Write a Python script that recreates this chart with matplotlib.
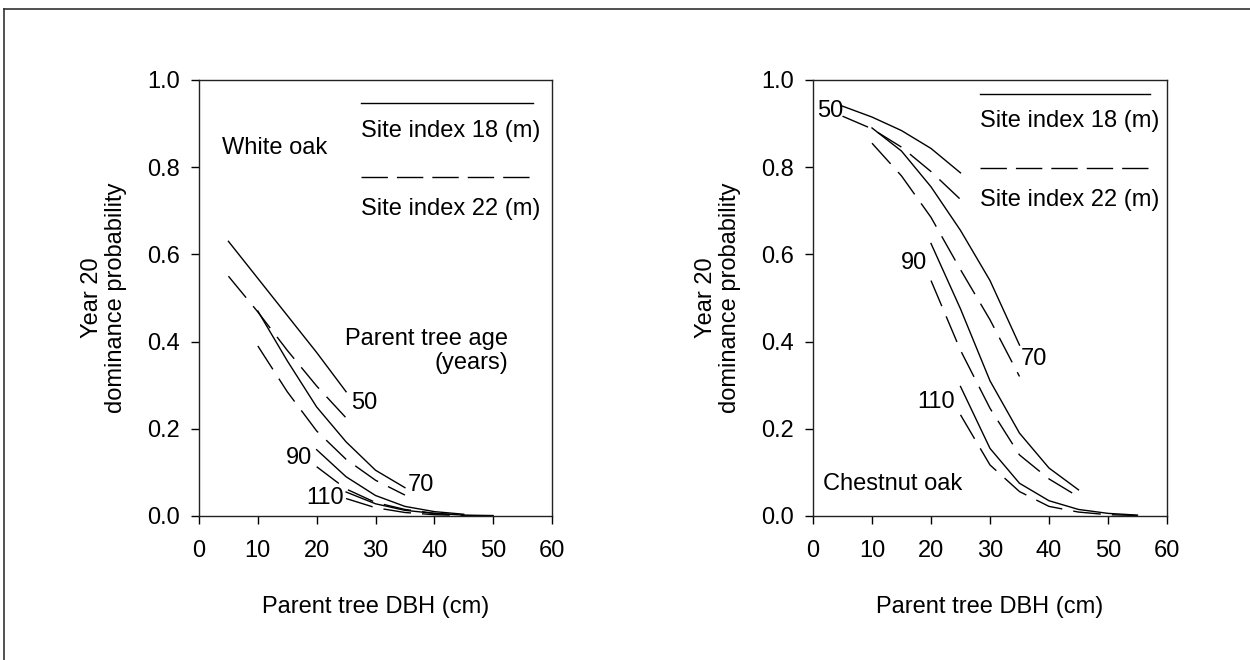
import matplotlib
matplotlib.use("Agg")
import matplotlib.pyplot as plt
from matplotlib.lines import Line2D

plt.rcParams["font.family"] = ["Liberation Sans", "DejaVu Sans"]
plt.rcParams["font.size"] = 17

# DBH (cm) values for each parent tree age
dbh_50 = [5, 10, 15, 20, 25]
dbh_70 = [10, 15, 20, 25, 30, 35]
dbh_90 = [20, 25, 30, 35, 40, 45]
dbh_110_wo = [25, 30, 35, 40, 45, 50]
dbh_110_co = [25, 30, 35, 40, 45, 50, 55]

# White oak - dominance probability (site index 18 / 22)
wo_si18_50 = [0.63, 0.545, 0.46, 0.375, 0.285]
wo_si22_50 = [0.55, 0.468, 0.38, 0.298, 0.225]
wo_si18_70 = [0.47, 0.356, 0.25, 0.17, 0.105, 0.065]
wo_si22_70 = [0.39, 0.285, 0.195, 0.13, 0.082, 0.048]
wo_si18_90 = [0.152, 0.09, 0.047, 0.022, 0.010, 0.004]
wo_si22_90 = [0.113, 0.062, 0.031, 0.015, 0.006, 0.002]
wo_si18_110 = [0.055, 0.028, 0.013, 0.006, 0.002, 0.001]
wo_si22_110 = [0.04, 0.019, 0.008, 0.003, 0.001, 0.0]

# Chestnut oak - dominance probability (site index 18 / 22)
co_si18_50 = [0.94, 0.915, 0.884, 0.843, 0.787]
co_si22_50 = [0.917, 0.888, 0.846, 0.79, 0.726]
co_si18_70 = [0.89, 0.837, 0.755, 0.655, 0.54, 0.392]
co_si22_70 = [0.855, 0.78, 0.685, 0.565, 0.45, 0.32]
co_si18_90 = [0.625, 0.475, 0.31, 0.19, 0.11, 0.06]
co_si22_90 = [0.54, 0.38, 0.247, 0.14, 0.085, 0.044]
co_si18_110 = [0.297, 0.155, 0.075, 0.035, 0.015, 0.006, 0.002]
co_si22_110 = [0.232, 0.117, 0.056, 0.022, 0.009, 0.003, 0.001]

legend_labels = ["Site index 18 (m)", "Site index 22 (m)"]
age_labels = ["50", "70", "90", "110"]
x_ticks = [0, 10, 20, 30, 40, 50, 60]
y_ticks = [0.0, 0.2, 0.4, 0.6, 0.8, 1.0]

DASH = (20, 8)

fig = plt.figure(figsize=(12.5, 6.6), dpi=100)

# frame lines (top and left) of the original figure
fig.add_artist(Line2D([0.003, 1.0], [0.987, 0.987], color="#333333", lw=1.2))
fig.add_artist(Line2D([0.003, 0.003], [0.0, 0.987], color="#333333", lw=1.2))

ax1 = fig.add_axes([0.1592, 0.2182, 0.2824, 0.6606])
ax2 = fig.add_axes([0.6504, 0.2182, 0.2832, 0.6606])


def setup(ax):
    ax.set_xlim(0, 60)
    ax.set_ylim(0, 1.0)
    ax.set_xticks(x_ticks)
    ax.set_yticks(y_ticks)
    ax.set_yticklabels(["%.1f" % v for v in y_ticks])
    ax.tick_params(direction="out", length=6, width=1, pad=8, labelsize=17)
    ax.tick_params(axis="x", pad=11)
    for s in ax.spines.values():
        s.set_linewidth(1.0)
        s.set_color("#222222")
    ax.set_xlabel("Parent tree DBH (cm)", fontsize=17, labelpad=25)
    ax.set_ylabel("Year 20\ndominance probability", fontsize=17, labelpad=14,
                  linespacing=1.15)


def curve(ax, x, y, dashed):
    if dashed:
        ax.plot(x, y, color="black", lw=1.0, dashes=DASH, solid_capstyle="butt")
    else:
        ax.plot(x, y, color="black", lw=1.0)


def legend_keys(ax, y_solid, y_text1, y_dash, y_text2, x0, x1):
    ax.plot([x0, x1], [y_solid, y_solid], color="black", lw=1.0)
    ax.plot([x0, x1 - 0.4], [y_dash, y_dash], color="black", lw=1.0, dashes=(19, 6.5))
    ax.text(x0, y_text1, legend_labels[0], ha="left", va="center")
    ax.text(x0, y_text2, legend_labels[1], ha="left", va="center")


# White oak
setup(ax1)
curve(ax1, dbh_50, wo_si18_50, False)
curve(ax1, dbh_50, wo_si22_50, True)
curve(ax1, dbh_70, wo_si18_70, False)
curve(ax1, dbh_70, wo_si22_70, True)
curve(ax1, dbh_90, wo_si18_90, False)
curve(ax1, dbh_90, wo_si22_90, True)
curve(ax1, dbh_110_wo, wo_si18_110, False)
curve(ax1, dbh_110_wo, wo_si22_110, True)
legend_keys(ax1, 0.948, 0.883, 0.778, 0.705, 27.6, 56.8)
ax1.text(3.85, 0.844, "White oak", ha="left", va="center")
ax1.text(52.6, 0.378, "Parent tree age\n(years)", ha="right", va="center",
         multialignment="right", linespacing=1.1)
ax1.text(28.1, 0.26, age_labels[0], ha="center", va="center")
ax1.text(37.7, 0.071, age_labels[1], ha="center", va="center")
ax1.text(17.0, 0.133, age_labels[2], ha="center", va="center")
ax1.text(21.4, 0.042, age_labels[3], ha="center", va="center")

# Chestnut oak
setup(ax2)
curve(ax2, dbh_50, co_si18_50, False)
curve(ax2, dbh_50, co_si22_50, True)
curve(ax2, dbh_70, co_si18_70, False)
curve(ax2, dbh_70, co_si22_70, True)
curve(ax2, dbh_90, co_si18_90, False)
curve(ax2, dbh_90, co_si22_90, True)
curve(ax2, dbh_110_co, co_si18_110, False)
curve(ax2, dbh_110_co, co_si22_110, True)
legend_keys(ax2, 0.967, 0.905, 0.797, 0.725, 28.3, 57.1)
ax2.text(1.7, 0.073, "Chestnut oak", ha="left", va="center")
ax2.text(2.9, 0.928, age_labels[0], ha="center", va="center")
ax2.text(37.5, 0.36, age_labels[1], ha="center", va="center")
ax2.text(17.1, 0.581, age_labels[2], ha="center", va="center")
ax2.text(20.9, 0.262, age_labels[3], ha="center", va="center")

plt.savefig("out.png", dpi=100)
